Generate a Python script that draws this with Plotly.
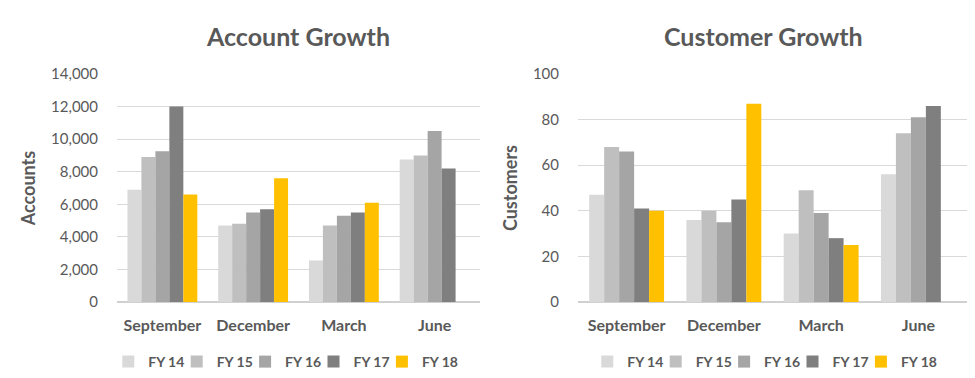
import plotly.graph_objects as go

months = ["September", "December", "March", "June"]
series = ["FY 14", "FY 15", "FY 16", "FY 17", "FY 18"]
colors = ["#d9d9d9", "#bfbfbf", "#a5a5a5", "#7f7f7f", "#ffc000"]

accounts_fy14 = [6900, 4700, 2550, 8750]
accounts_fy15 = [8900, 4800, 4700, 9000]
accounts_fy16 = [9250, 5500, 5300, 10500]
accounts_fy17 = [12000, 5700, 5500, 8200]
accounts_fy18 = [6600, 7600, 6100, None]

customers_fy14 = [47, 36, 30, 56]
customers_fy15 = [68, 40, 49, 74]
customers_fy16 = [66, 35, 39, 81]
customers_fy17 = [41, 45, 28, 86]
customers_fy18 = [40, 87, 25, None]

accounts = [accounts_fy14, accounts_fy15, accounts_fy16, accounts_fy17, accounts_fy18]
customers = [customers_fy14, customers_fy15, customers_fy16, customers_fy17, customers_fy18]

FONT = "Lato, 'Open Sans', sans-serif"
TXT = "#595959"
W, H = 975, 378

fig = go.Figure()
legends = {}
leg_base = dict(orientation="h", yanchor="middle", y=1 - 362 / H, itemwidth=30,
                xanchor="left", bgcolor="rgba(0,0,0,0)",
                font=dict(family=FONT, size=14, color=TXT, weight="bold"),
                itemclick=False, itemdoubleclick=False)
SYM_OFF = 15   # legend box left -> symbol left
STEP = 68.4
for panel, (data, xa, ya, start) in enumerate([(accounts, "x", "y", 123.3),
                                                 (customers, "x2", "y2", 602.3)]):
    for i, (name, vals, c) in enumerate(zip(series, data, colors)):
        k = panel * 5 + i + 1
        lname = "legend" if k == 1 else f"legend{k}"
        fig.add_trace(go.Bar(x=months, y=vals, name=name, marker_color=c, marker_line_width=0,
                             xaxis=xa, yaxis=ya, legend=lname, showlegend=True,
                             hoverinfo="x+y+name"))
        legends[lname] = dict(x=(start + i * STEP - SYM_OFF) / W, **leg_base)

ydom = [1 - 302 / H, 1 - 74 / H]
common_x = dict(showgrid=False, showline=False, ticks="", zeroline=False, ticklabelstandoff=12,
                tickfont=dict(family=FONT, size=16, color=TXT, weight="bold"))
common_y = dict(showgrid=True, gridcolor="#d9d9d9", gridwidth=1, showline=False, ticks="",
                zeroline=True, zerolinecolor="#d0d0d0", zerolinewidth=2, ticklabelstandoff=18,
                tickfont=dict(family=FONT, size=15, color=TXT))

fig.update_layout(
    width=W, height=H,
    showlegend=True,
    margin=dict(l=0, r=0, t=0, b=0, autoexpand=False),
    paper_bgcolor="white", plot_bgcolor="white",
    barmode="group", bargap=0.23, bargroupgap=0,
    font=dict(family=FONT, color=TXT),
    xaxis=dict(domain=[117 / W, 480 / W], anchor="y", **common_x),
    yaxis=dict(domain=ydom, anchor="x", range=[0, 14000], dtick=2000, tickformat=",",
               title=dict(text="Accounts", font=dict(family=FONT, size=18, color=TXT, weight="bold"), standoff=10),
               **common_y),
    xaxis2=dict(domain=[578 / W, 967 / W], anchor="y2", **common_x),
    yaxis2=dict(domain=ydom, anchor="x2", range=[0, 100], dtick=20,
                title=dict(text="Customers", font=dict(family=FONT, size=18, color=TXT, weight="bold"), standoff=10),
                **common_y),
    annotations=[
        dict(text="Account Growth", x=298 / W, y=1 - 36 / H, xref="paper", yref="paper",
             xanchor="center", yanchor="middle", showarrow=False,
             font=dict(family=FONT, size=25, color=TXT, weight="bold")),
        dict(text="Customer Growth", x=763 / W, y=1 - 36 / H, xref="paper", yref="paper",
             xanchor="center", yanchor="middle", showarrow=False,
             font=dict(family=FONT, size=25, color=TXT, weight="bold")),
    ],
    **legends,
)

fig.write_html("out.html", config={"displayModeBar": False},
               post_script="document.body.style.margin='0';")
